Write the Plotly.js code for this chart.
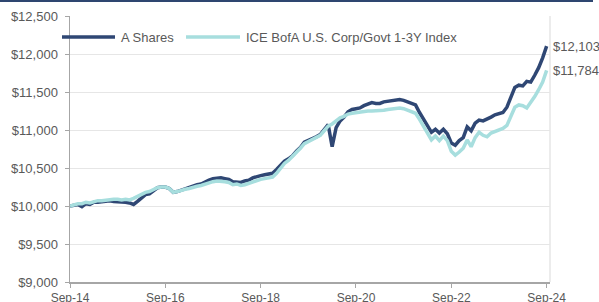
<!DOCTYPE html>
<html>
<head>
<meta charset="utf-8">
<script src="https://cdn.plot.ly/plotly-3.0.1.min.js"></script>
<style>
html,body{margin:0;padding:0;background:#fff;}
#wrap{position:relative;width:599px;height:302px;overflow:hidden;}
#chart{width:599px;height:302px;}
#topbar{position:absolute;left:0;top:0;width:593px;height:2px;background:#2e4670;}
</style>
</head>
<body>
<div id="wrap"><div id="chart"></div><div id="topbar"></div></div>
<script>
// Month index 0 = Sep-14 ... 120 = Sep-24 (monthly growth of $10,000)
const seriesNames = ["A Shares", "ICE BofA U.S. Corp/Govt 1-3Y Index"];
const tickLabels = ["Sep-14", "Sep-16", "Sep-18", "Sep-20", "Sep-22", "Sep-24"];
const tickMonths = [0, 24, 48, 72, 96, 120];
const yTicks = [9000, 9500, 10000, 10500, 11000, 11500, 12000, 12500];

const aShares = [
  10000,10010,10020,9990,10030,10020,10050,10050,10060,10060,10070,10060,
  10060,10050,10050,10040,10020,10060,10110,10150,10160,10200,10240,10250,
  10250,10230,10180,10190,10210,10230,10240,10260,10280,10290,10320,10340,
  10360,10370,10370,10360,10350,10320,10320,10310,10330,10340,10370,10390,
  10400,10410,10420,10430,10480,10540,10590,10620,10660,10720,10770,10840,
  10860,10890,10910,10940,11000,11070,10780,11030,11120,11170,11240,11270,
  11280,11290,11320,11340,11360,11350,11350,11370,11380,11390,11400,11400,
  11390,11370,11340,11330,11230,11150,11060,10970,11010,10960,11010,10950,
  10830,10800,10860,10900,11040,10990,11090,11130,11120,11140,11170,11200,
  11210,11230,11300,11420,11560,11590,11580,11640,11630,11720,11820,11950,
  12103
];
const iceIndex = [
  10000,10020,10030,10030,10050,10040,10060,10070,10070,10080,10090,10090,
  10090,10080,10090,10080,10100,10130,10160,10180,10190,10220,10240,10250,
  10250,10230,10180,10190,10210,10220,10230,10250,10260,10270,10290,10310,
  10320,10330,10330,10320,10310,10280,10290,10270,10280,10300,10320,10330,
  10350,10360,10370,10380,10430,10500,10560,10600,10650,10710,10760,10820,
  10850,10880,10900,10930,10990,11050,11080,11120,11160,11180,11210,11220,
  11230,11240,11250,11250,11250,11250,11250,11260,11270,11280,11290,11290,
  11280,11260,11240,11220,11140,11050,10950,10870,10920,10860,10920,10860,
  10720,10670,10710,10760,10870,10780,10900,10970,10930,10910,10960,10980,
  11010,11020,11060,11180,11300,11330,11320,11290,11360,11440,11530,11630,
  11784
];

const darkColor = "#2f4774";
const lightColor = "#a7dede";
const textColor = "#595959";
const fontFam = "Liberation Sans, Arial, sans-serif";

const months = aShares.map((_, i) => i);
const fmt = v => "$" + v.toLocaleString("en-US");

const traces = [
  {x: months, y: aShares, type: "scatter", mode: "lines", name: seriesNames[0],
   line: {color: darkColor, width: 3.5}, showlegend: false, hoverinfo: "skip"},
  {x: months, y: iceIndex, type: "scatter", mode: "lines", name: seriesNames[1],
   line: {color: lightColor, width: 3.5}, showlegend: false, hoverinfo: "skip"}
];

// plot area: x 70..550 px, y 16..282 px
const px = p => (p - 70) / 480;
const py = p => (282 - p) / 266;
const legY = py(37);

const lastA = aShares[aShares.length - 1];
const lastI = iceIndex[iceIndex.length - 1];
const lastM = months[months.length - 1];

const layout = {
  width: 599, height: 302,
  margin: {l: 70, r: 49, t: 16, b: 20, pad: 0},
  paper_bgcolor: "#fff", plot_bgcolor: "#fff",
  font: {family: fontFam, size: 13, color: textColor},
  xaxis: {
    range: [0, 120.85], tickvals: tickMonths, ticktext: tickLabels,
    showgrid: false, zeroline: false, showline: true, linecolor: "#a6a6a6", linewidth: 1.5,
    ticks: "outside", ticklen: 4, tickcolor: "#a6a6a6",
    tickfont: {family: fontFam, size: 12, color: textColor},
    mirror: false
  },
  yaxis: {
    range: [9000, 12500], tickvals: yTicks, ticktext: yTicks.map(fmt),
    showgrid: true, gridcolor: "#e6e6e6", gridwidth: 1, zeroline: false,
    showline: true, linecolor: "#a6a6a6", linewidth: 1.5,
    ticks: "outside", ticklen: 4, tickcolor: "#a6a6a6",
    tickfont: {family: fontFam, size: 13, color: textColor},
    ticklabelstandoff: 4
  },
  shapes: [
    {type: "line", xref: "paper", yref: "paper", x0: 1, x1: 1, y0: 0, y1: 1,
     line: {color: "#e6e6e6", width: 1.5}},
    {type: "line", xref: "paper", yref: "paper", x0: px(62), x1: px(115), y0: legY, y1: legY,
     line: {color: darkColor, width: 3.5}},
    {type: "line", xref: "paper", yref: "paper", x0: px(186), x1: px(240), y0: legY, y1: legY,
     line: {color: lightColor, width: 3.5}}
  ],
  annotations: [
    {xref: "paper", yref: "paper", x: px(119), y: legY, text: seriesNames[0], showarrow: false,
     xanchor: "left", yanchor: "middle", font: {size: 13, color: textColor}},
    {xref: "paper", yref: "paper", x: px(244), y: legY, text: seriesNames[1], showarrow: false,
     xanchor: "left", yanchor: "middle", font: {size: 13, color: textColor}},
    {x: lastM, y: lastA, text: fmt(lastA), showarrow: false, xanchor: "left", yanchor: "middle",
     xshift: 4, font: {size: 13, color: textColor}},
    {x: lastM, y: lastI, text: fmt(lastI), showarrow: false, xanchor: "left", yanchor: "middle",
     xshift: 4, font: {size: 13, color: textColor}}
  ]
};

Plotly.newPlot("chart", traces, layout, {staticPlot: true, displayModeBar: false});
</script>
</body>
</html>
